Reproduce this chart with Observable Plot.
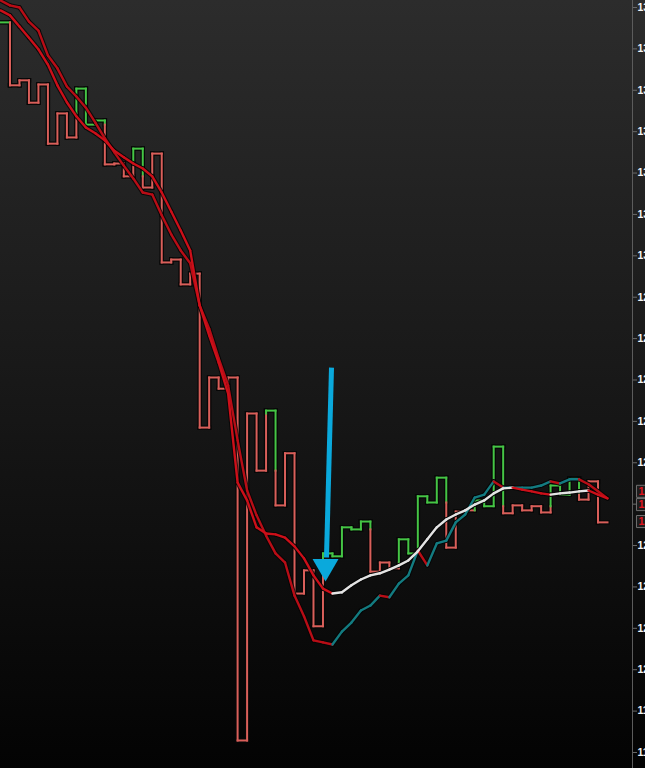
<!DOCTYPE html>
<html>
<head>
<meta charset="utf-8">
<script src="https://cdn.jsdelivr.net/npm/d3@7"></script>
<script src="https://cdn.jsdelivr.net/npm/@observablehq/plot@0.6"></script>
<style>
  html, body { margin: 0; padding: 0; background: #000; overflow: hidden; }
  #chart svg { display: block; }
  [aria-label^="y-axis"] text { fill: #f4f4f4; font-weight: bold; font-size: 10.5px; }
  [aria-label^="y-axis"] line, [aria-label="y-axis tick"] path { stroke: #6a6a6a; }
</style>
</head>
<body>
<div id="chart"></div>
<script>
// Closing prices, one per bar (step line)
const closes = [1356.4,1341.2,1342.4,1337.0,1341.4,1327.1,1334.4,1328.6,1340.4,1331.7,
  1332.7,1322.1,1322.3,1319.2,1325.9,1316.5,1324.7,1298.4,1299.1,1293.1,
  1295.7,1258.5,1270.6,1267.9,1270.6,1182.9,1261.9,1248.1,1262.6,1239.7,
  1252.3,1218.4,1224.0,1210.5,1228.1,1227.4,1234.4,1233.9,1235.8,1223.7,
  1225.9,1224.5,1231.5,1228.1,1241.9,1240.4,1246.4,1229.5,1238.2,1238.5,
  1240.9,1239.5,1253.9,1237.8,1239.7,1238.5,1239.5,1238.0,1244.5,1242.3,
  1246.2,1241.1,1245.5,1235.6];
// Bars flagged bullish (green) by the indicator
const greenBars = [0,8,9,10,14,28,34,35,36,37,38,42,43,44,45,46,50,51,52,58,59,60];
// Moving averages, one value per bar boundary (65 points)
const maFast = [1361.7,1360.5,1360.0,1356.6,1354.4,1348.4,1345.3,1340.9,1338.5,1335.8,
  1332.2,1328.4,1325.0,1321.8,1318.7,1315.3,1314.8,1309.8,1305.2,1301.3,
  1298.2,1288.0,1282.4,1275.2,1268.7,1255.4,1243.3,1237.3,1232.4,1228.1,
  1225.9,1217.9,1212.9,1207.1,1206.6,1206.1,1209.2,1211.4,1214.3,1215.5,
  1217.9,1217.5,1220.8,1222.8,1228.8,1225.2,1230.5,1231.2,1235.6,1237.5,
  1241.6,1242.3,1245.5,1244.0,1244.0,1244.0,1244.0,1244.5,1245.5,1245.0,
  1246.0,1246.0,1244.8,1243.1,1241.4];
const maSlow = [1359.3,1358.1,1355.4,1352.7,1349.9,1346.2,1341.2,1337.1,1333.7,1331.0,
  1329.6,1327.9,1325.4,1323.8,1322.3,1321.1,1319.2,1315.3,1310.7,1306.1,
  1301.3,1288.0,1280.8,1274.2,1266.7,1245.2,1240.9,1234.4,1232.9,1232.7,
  1231.9,1229.8,1226.9,1222.8,1219.6,1218.4,1218.7,1220.4,1221.8,1222.8,
  1223.3,1224.2,1225.2,1226.4,1228.6,1231.5,1234.4,1236.3,1237.5,1238.5,
  1239.9,1240.9,1242.6,1243.8,1244.0,1243.5,1243.1,1242.6,1242.3,1242.6,
  1242.8,1243.1,1243.3,1242.3,1241.4];
// Right axis tick values
const yTicks = d3.range(1180, 1361, 10);
// Price flags on the right axis
const flagValues = [1243.1, 1239.9, 1235.8];
// Annotation arrow (bar position, price)
const arrowX = [34.9, 34.37];
const arrowY = [1273.0, 1227.1];
const arrowTip = {x: 34.27, y: 1221.3};

// ---- derived geometry in data space ----
const green = new Set(greenBars);
const state = i => green.has(i) ? "up" : "down";
const steps = [];
closes.forEach((c, i) => {
  steps.push({x1: i, x2: i + 1, y1: c, y2: c, k: state(i)});
  if (i === 0) return;
  const a = closes[i - 1], b = c;
  const kp = state(i - 1), kc = state(i);
  if (kp === kc) { steps.push({x1: i, x2: i, y1: a, y2: b, k: kc}); return; }
  const p = i >= 2 ? closes[i - 2] : a;
  let s;
  if ((p - a) * (p - b) <= 0) s = p;
  else if ((p - a) * (b - a) > 0) s = b;
  else s = a;
  if (s !== a) steps.push({x1: i, x2: i, y1: a, y2: s, k: kp});
  if (s !== b) steps.push({x1: i, x2: i, y1: s, y2: b, k: kc});
});
const maSegs = [];
[[maFast, "fast"], [maSlow, "slow"]].forEach(([arr, name]) => {
  for (let t = 1; t < arr.length; t++) {
    const down = arr[t] < arr[t - 1];
    maSegs.push({x1: t - 1, x2: t, y1: arr[t - 1], y2: arr[t], k: name + (down ? "Down" : "Up")});
  }
});
const flags = flagValues.map(v => ({y: v, label: v.toFixed(1)}));

const chart = Plot.plot({
  width: 645,
  height: 768,
  marginTop: 0, marginBottom: 0, marginLeft: 0, marginRight: 13,
  x: {domain: [0, 64], range: [0, 607], axis: null},
  y: {domain: [1176.13, 1361.69], range: [768, 0], axis: "right", ticks: yTicks,
      tickSize: 4, tickPadding: 1, tickFormat: d => d.toFixed(1), label: null},
  color: {
    domain: ["up", "down", "fastUp", "fastDown", "slowUp", "slowDown"],
    range: ["#45c545", "#d95f5a", "#137b80", "#b80d16", "#e4e4e4", "#cc0f19"]
  },
  style: {
    background: "linear-gradient(to bottom, #2c2c2c 0%, #1a1a1a 45%, #030303 100%)",
    fontFamily: "'Liberation Sans', Arial, sans-serif",
    fontSize: "10.5px",
    color: "#f4f4f4",
    overflow: "hidden"
  },
  marks: [
    Plot.frame({anchor: "right", stroke: "#5c5c5c"}),
    Plot.link(steps, {x1: "x1", y1: "y1", x2: "x2", y2: "y2", stroke: "#070707", strokeWidth: 4.5, strokeLinecap: "square"}),
    Plot.link(steps, {x1: "x1", y1: "y1", x2: "x2", y2: "y2", stroke: "k", strokeWidth: 2, strokeLinecap: "square"}),
    Plot.link(maSegs, {x1: "x1", y1: "y1", x2: "x2", y2: "y2", stroke: "#050505", strokeWidth: 4.5, strokeLinecap: "round", strokeOpacity: 0.8}),
    Plot.link(maSegs, {x1: "x1", y1: "y1", x2: "x2", y2: "y2", stroke: "k", strokeWidth: 2.4, strokeLinecap: "round"}),
    Plot.link([0], {x1: () => arrowX[0], y1: () => arrowY[0], x2: () => arrowX[1], y2: () => arrowY[1], stroke: "#0aa9dc", strokeWidth: 5}),
    Plot.dot([arrowTip], {x: "x", y: "y", symbol: "triangle", r: 9.65, rotate: 180, dy: -15, fill: "#0aa9dc", stroke: "none"}),
    Plot.dot(flags, {y: "y", frameAnchor: "right", dx: 10, symbol: "square", r: 6.8, fill: "#1d1d1d", stroke: "#707070", strokeWidth: 1}),
    Plot.text(flags, {y: "y", text: "label", frameAnchor: "right", dx: 6, textAnchor: "start", fill: "#e0141e", fontWeight: "bold", fontSize: 10.5})
  ]
});
document.getElementById("chart").appendChild(chart);
</script>
</body>
</html>
